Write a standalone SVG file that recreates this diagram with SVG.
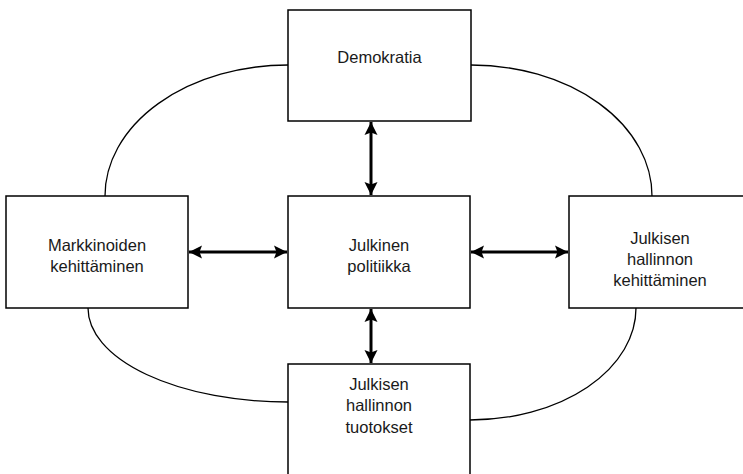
<svg xmlns="http://www.w3.org/2000/svg" width="743" height="474" viewBox="0 0 743 474">
  <style>
    .box { fill: #ffffff; stroke: #000000; stroke-width: 1.5; }
    .lbl { font-family: "Liberation Sans", Arial, sans-serif; font-size: 16.5px; fill: #1a1a1a; text-anchor: middle; }
    .curve { fill: none; stroke: #000000; stroke-width: 1.3; }
    .link { fill: none; stroke: #000000; stroke-width: 3; marker-start: url(#head); marker-end: url(#head); }
  </style>
  <defs>
    <marker id="head" markerUnits="userSpaceOnUse" markerWidth="14" markerHeight="14" refX="13" refY="7" orient="auto-start-reverse">
      <path d="M0,0.5 L13,7 L0,13.5 L2.5,7 Z" fill="#000000"/>
    </marker>
  </defs>
  <rect width="743" height="474" fill="#ffffff"/>

  <!-- curved relations between the outer nodes -->
  <g id="connectors">
    <path class="curve" d="M105,196 A183,131 0 0 1 288,65"/>
    <path class="curve" d="M471,65 A181,131 0 0 1 652,196"/>
    <path class="curve" d="M88,308 A200,94 0 0 0 288,402"/>
    <path class="curve" d="M470,420 A166,112 0 0 0 636,308"/>
    <!-- two-way arrows around the centre -->
    <path class="link" d="M371,122 L371,195"/>
    <path class="link" d="M371,309 L371,363"/>
    <path class="link" d="M189,252 L287,252"/>
    <path class="link" d="M471,252 L568,252"/>
  </g>

  <g id="demokratia">
    <rect class="box" x="288" y="10" width="183" height="111"/>
    <text class="lbl" x="379.5" y="63">Demokratia</text>
  </g>

  <g id="julkinen-politiikka">
    <rect class="box" x="288" y="196" width="182" height="112"/>
    <text class="lbl" x="379" y="250.5">Julkinen</text>
    <text class="lbl" x="379" y="271.5">politiikka</text>
  </g>

  <g id="markkinoiden-kehittaminen">
    <rect class="box" x="6" y="196" width="182" height="112"/>
    <text class="lbl" x="97" y="250.5">Markkinoiden</text>
    <text class="lbl" x="97" y="271.5">kehittäminen</text>
  </g>

  <g id="julkisen-hallinnon-kehittaminen">
    <rect class="box" x="569" y="196" width="182" height="112"/>
    <text class="lbl" x="660" y="244">Julkisen</text>
    <text class="lbl" x="660" y="265">hallinnon</text>
    <text class="lbl" x="660" y="286">kehittäminen</text>
  </g>

  <g id="julkisen-hallinnon-tuotokset">
    <rect class="box" x="288" y="364" width="182" height="120"/>
    <text class="lbl" x="379" y="389.5">Julkisen</text>
    <text class="lbl" x="379" y="411">hallinnon</text>
    <text class="lbl" x="379" y="432.5">tuotokset</text>
  </g>
</svg>
